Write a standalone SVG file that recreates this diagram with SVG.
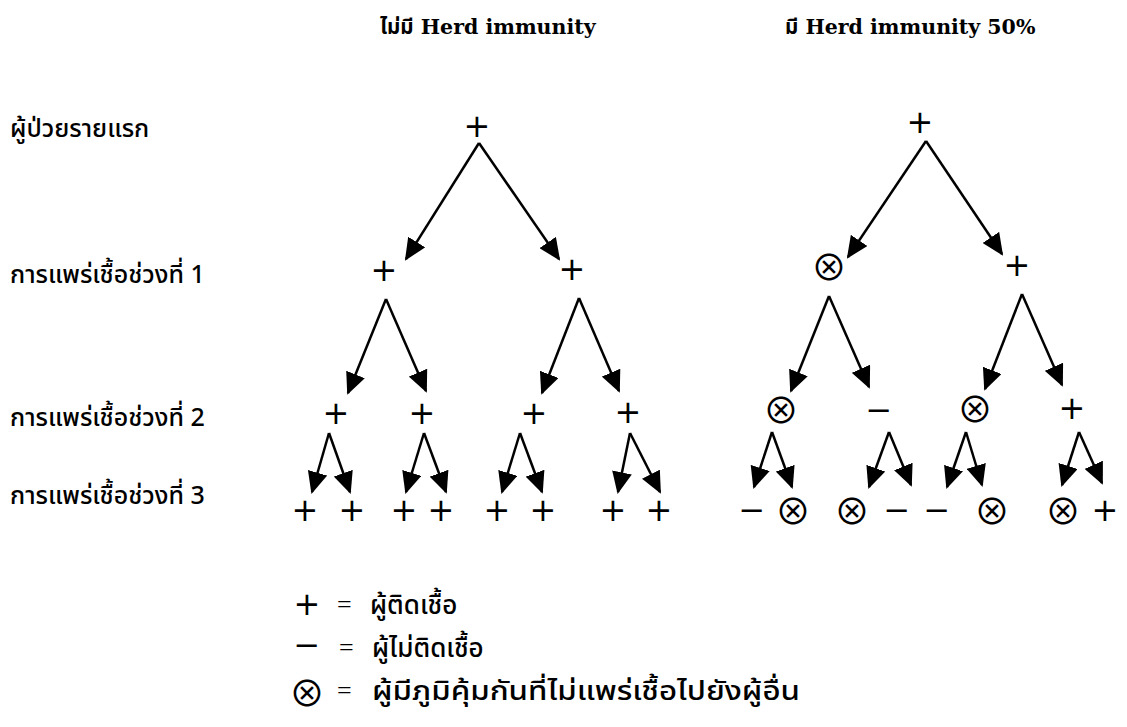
<svg xmlns="http://www.w3.org/2000/svg" width="1127" height="727" viewBox="0 0 1127 727">
<style>
.hdr{font-family:"DejaVu Serif","Liberation Serif","Noto Sans Thai",serif;font-weight:bold;font-size:20.5px;fill:#000}
.lbl{font-family:"Noto Sans Thai","Noto Sans","Liberation Sans",sans-serif;font-size:25px;font-weight:500;fill:#000}
.leg{font-family:"Noto Sans Thai","Noto Sans","Liberation Sans",sans-serif;font-size:26px;font-weight:500;fill:#000}
.sym{font-family:"DejaVu Sans","Liberation Serif",serif;font-size:32px;fill:#000;text-anchor:middle;dominant-baseline:central}
.ox{font-family:"Noto Sans CJK JP","DejaVu Sans",sans-serif;font-size:36px}
.eq{font-family:"Liberation Serif",serif;font-size:26px;fill:#000}
.arr line{stroke:#000;stroke-width:2.5;marker-end:url(#ah)}
</style>
<defs>
<marker id="ah" viewBox="0 0 22 20" markerWidth="22" markerHeight="20" refX="20" refY="10" orient="auto" markerUnits="userSpaceOnUse">
<path d="M0,0 L22,10 L0,20 z" fill="#000"/>
</marker>
</defs>
<rect width="1127" height="727" fill="#fff"/>
<g id="headers">
<text class="hdr" x="380" y="34">ไม่มี Herd immunity</text>
<text class="hdr" x="785" y="34">มี Herd immunity 50%</text>
</g>
<g id="row-labels">
<text class="lbl" x="10" y="137">ผู้ป่วยรายแรก</text>
<text class="lbl" x="10" y="283">การแพร่เชื้อช่วงที่ 1</text>
<text class="lbl" x="10" y="426">การแพร่เชื้อช่วงที่ 2</text>
<text class="lbl" x="10" y="504">การแพร่เชื้อช่วงที่ 3</text>
</g>
<g id="connectors" class="arr">
<line x1="479" y1="143" x2="406" y2="259"/>
<line x1="479" y1="143" x2="559" y2="259"/>
<line x1="386" y1="299" x2="348" y2="393"/>
<line x1="386" y1="299" x2="426" y2="391"/>
<line x1="579" y1="298" x2="542" y2="393"/>
<line x1="579" y1="298" x2="619" y2="391"/>
<line x1="329" y1="433" x2="312" y2="492"/>
<line x1="329" y1="433" x2="350" y2="492"/>
<line x1="424" y1="433" x2="406" y2="492"/>
<line x1="424" y1="433" x2="446" y2="492"/>
<line x1="520" y1="433" x2="502" y2="492"/>
<line x1="520" y1="433" x2="542" y2="492"/>
<line x1="630" y1="433" x2="618" y2="492"/>
<line x1="630" y1="433" x2="660" y2="492"/>
<line x1="926" y1="141" x2="848" y2="257"/>
<line x1="926" y1="141" x2="1002" y2="254"/>
<line x1="829" y1="296" x2="791" y2="391"/>
<line x1="829" y1="296" x2="869" y2="387"/>
<line x1="1022" y1="294" x2="985" y2="389"/>
<line x1="1022" y1="294" x2="1062" y2="385"/>
<line x1="772" y1="432" x2="754" y2="487"/>
<line x1="772" y1="432" x2="792" y2="487"/>
<line x1="889" y1="432" x2="869" y2="487"/>
<line x1="889" y1="432" x2="911" y2="485"/>
<line x1="966" y1="432" x2="947" y2="487"/>
<line x1="966" y1="432" x2="982" y2="485"/>
<line x1="1079" y1="432" x2="1062" y2="485"/>
<line x1="1079" y1="432" x2="1102" y2="483"/>
</g>
<g id="tree-left">
<text class="sym" x="477" y="126">+</text>
<text class="sym" x="384" y="270">+</text>
<text class="sym" x="572" y="269">+</text>
<text class="sym" x="336" y="413">+</text>
<text class="sym" x="422" y="413">+</text>
<text class="sym" x="534" y="413">+</text>
<text class="sym" x="628" y="412">+</text>
<text class="sym" x="305" y="510">+</text>
<text class="sym" x="352" y="510">+</text>
<text class="sym" x="404" y="510">+</text>
<text class="sym" x="441" y="510">+</text>
<text class="sym" x="497" y="510">+</text>
<text class="sym" x="543" y="510">+</text>
<text class="sym" x="613" y="510">+</text>
<text class="sym" x="659" y="510">+</text>
</g>
<g id="tree-right">
<text class="sym" x="920" y="122">+</text>
<text class="sym ox" x="829" y="265">⊗</text>
<text class="sym" x="1017" y="265">+</text>
<text class="sym ox" x="781" y="408">⊗</text>
<text class="sym" x="879" y="410">−</text>
<text class="sym ox" x="975" y="407">⊗</text>
<text class="sym" x="1072" y="408">+</text>
<text class="sym" x="752" y="510">−</text>
<text class="sym ox" x="793" y="509">⊗</text>
<text class="sym ox" x="852" y="509">⊗</text>
<text class="sym" x="897" y="510">−</text>
<text class="sym" x="937" y="510">−</text>
<text class="sym ox" x="992" y="509">⊗</text>
<text class="sym ox" x="1063" y="509">⊗</text>
<text class="sym" x="1105" y="510">+</text>
</g>
<g id="legend">
<text class="sym" x="307" y="604">+</text>
<text class="eq" x="337" y="613">=</text>
<text class="leg" x="370" y="614">ผู้ติดเชื้อ</text>
<text class="sym" x="307" y="645" font-size="30">−</text>
<text class="eq" x="339" y="656">=</text>
<text class="leg" x="372" y="657">ผู้ไม่ติดเชื้อ</text>
<text class="sym ox" x="307" y="691">⊗</text>
<text class="eq" x="337" y="699">=</text>
<text class="leg" x="372" y="700" textLength="428" lengthAdjust="spacingAndGlyphs">ผู้มีภูมิคุ้มกันที่ไม่แพร่เชื้อไปยังผู้อื่น</text>
</g>
</svg>
